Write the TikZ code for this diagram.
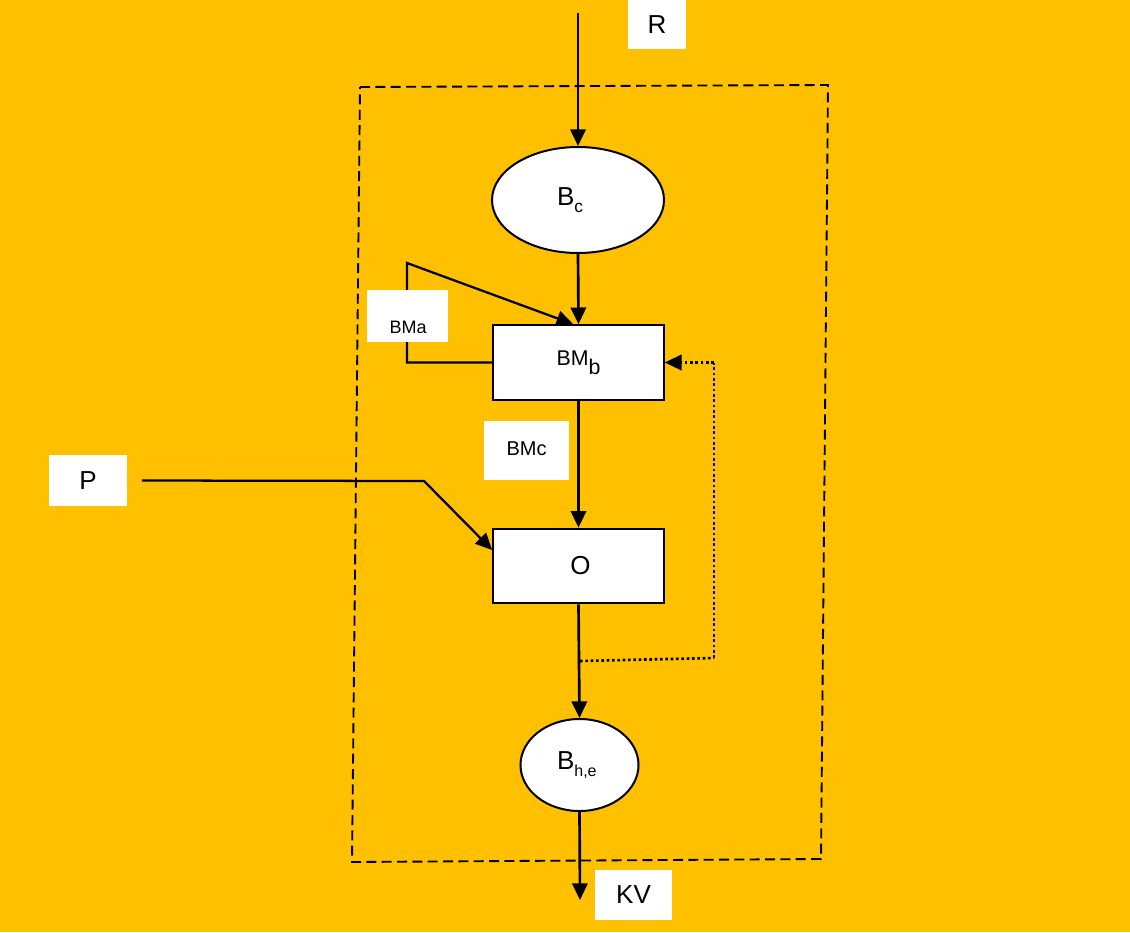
\documentclass[tikz,border=0pt]{standalone}
\usepackage{fontspec}
\setmainfont{Liberation Sans}
\usetikzlibrary{arrows.meta,shapes.geometric}
\definecolor{bg}{HTML}{FFC000}
\begin{document}
\begin{tikzpicture}[x=0.75pt,y=-0.75pt,
  tip/.style={-{Triangle[length=12.5pt,width=11.5pt]}},
  arr/.style={line width=2pt,tip},
  box/.style={draw,line width=1.5pt,fill=white,minimum width=128pt,minimum height=56pt,inner sep=0pt},
  ell/.style={ellipse,draw,line width=1.5pt,fill=white,inner sep=0pt},
  wbox/.style={fill=white,inner sep=0pt},
  big/.style={font=\fontsize{19.5}{19.5}\selectfont},
  dotline/.style={line width=2pt,dash pattern=on 2pt off 2pt},
  frame/.style={line width=1.4pt,dash pattern=on 7.5pt off 4pt}]
\fill[bg] (0,0) rectangle (1130,932);
\useasboundingbox (0,0) rectangle (1130,932);

\draw[frame] (360,87) -- (828,85) -- (821,859) -- (352,862) -- cycle;

\node[ell,minimum width=129pt,minimum height=79.5pt,big] (bc) at (578,200) {B\raisebox{-5pt}{\fontsize{13}{13}\selectfont c}\kern12pt};
\node[box,font=\fontsize{16}{16}\selectfont] (bmb) at (578.5,362.5) {BM\raisebox{-6.5pt}{b}};
\node[box,big] (o) at (578.5,566) {\kern3pt O};
\node[ell,minimum width=88.5pt,minimum height=69pt,big] (bh) at (579.5,765) {B\raisebox{-5.5pt}{\fontsize{12}{12}\selectfont h,e}\kern4pt};

\node[wbox,minimum width=43.5pt,minimum height=36.75pt,big] (r) at (657,24.5) {R};
\node[wbox,minimum width=63.75pt,minimum height=44.25pt,font=\fontsize{15}{15}\selectfont] (bmc) at (526.5,450.5) {\raisebox{3pt}{BMc}};
\node[wbox,minimum width=58.5pt,minimum height=38.25pt,big] (p) at (88,480.5) {P};
\node[wbox,minimum width=57.75pt,minimum height=37.5pt,big] (kv) at (633.5,895) {KV};

\coordinate (rtop) at (578,13);
\coordinate (la) at (407,362.5);
\coordinate (lb) at (407,263);
\coordinate (pk) at (424,481);
\coordinate (dj) at (580,661);
\coordinate (dc1) at (714,658);
\coordinate (dc2) at (714,362.5);
\coordinate (kvend) at (580,900);

\draw[arr] (rtop) -- (bc.north);
\draw[arr] (bc.south) -- (bmb.north);
\draw[line width=1.7pt,tip] (bmb.west) -- (la) -- (lb) -- ([xshift=-4pt]bmb.north);
\node[wbox,minimum width=60.75pt,minimum height=39pt] (bma) at (407.5,316) {};
\node[font=\fontsize{13.5}{13.5}\selectfont] (bmat) at (408,327) {BMa};

\draw[arr] (bmb.south) -- (o.north);
\draw[line width=1.7pt,tip] ([xshift=11pt]p.east) -- (pk) -- ([yshift=12pt]o.west);
\draw[arr] (o.south) -- (bh.north);
\draw[arr] (bh.south) -- (kvend);

\draw[dotline] (dj) -- (dc1);
\draw[dotline,blue] (dc1) -- (dc2);
\draw[dotline,tip] (dc2) -- (bmb.east);
\end{tikzpicture}
\end{document}
